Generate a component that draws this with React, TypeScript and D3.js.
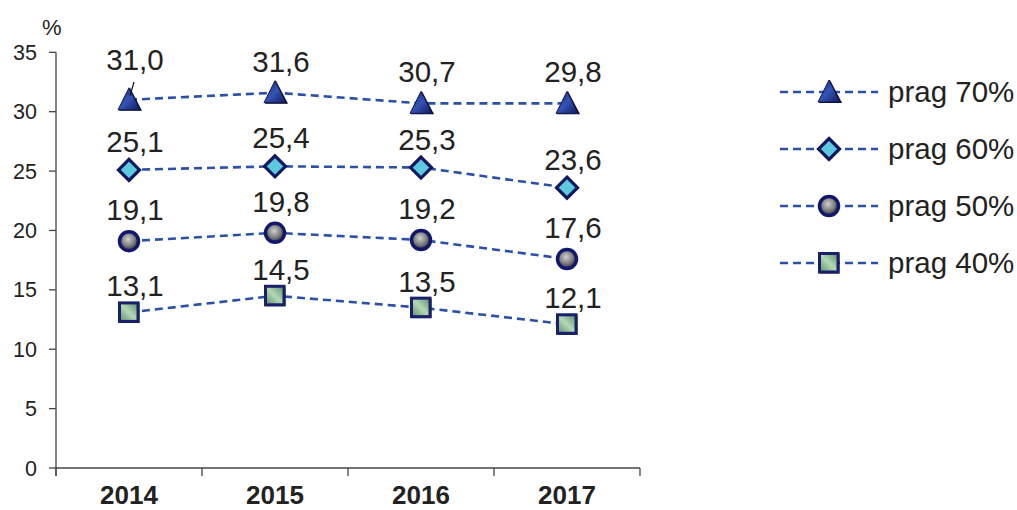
import React from "react";
import * as d3 from "d3";

const years = ["2014", "2015", "2016", "2017"];
const yTicks = [0, 5, 10, 15, 20, 25, 30, 35];
const seriesNames = ["prag 70%", "prag 60%", "prag 50%", "prag 40%"];
const markerKinds = ["triangle", "diamond", "circle", "square"];
// plotted positions (as drawn in the picture)
const prag70 = [31.0, 31.6, 30.7, 30.7];
const prag60 = [25.1, 25.4, 25.3, 23.6];
const prag50 = [19.1, 19.8, 19.2, 17.6];
const prag40 = [13.1, 14.5, 13.5, 12.1];
// printed data labels
const labels70 = ["31,0", "31,6", "30,7", "29,8"];
const labels60 = ["25,1", "25,4", "25,3", "23,6"];
const labels50 = ["19,1", "19,8", "19,2", "17,6"];
const labels40 = ["13,1", "14,5", "13,5", "12,1"];

const allValues = [prag70, prag60, prag50, prag40];
const allLabels = [labels70, labels60, labels50, labels40];

const W = 1017;
const H = 510;
const FONT = "'Liberation Sans', Arial, sans-serif";
const LINE = "#2a50a8";

const x = d3.scaleBand<string>().domain(years).range([56, 640]);
const y = d3.scaleLinear().domain([0, 35]).range([468, 52.3]);
const cx = (yr: string) => (x(yr) as number) + x.bandwidth() / 2;

const labelGap = [21, 18, 21, 16];

function Marker({ kind, px, py }: { kind: string; px: number; py: number }) {
  if (kind === "triangle") {
    const p = (pts: number[][]) => pts.map((q) => q.join(",")).join(" ");
    return (
      <g>
        <polygon points={p([[px + 1, py - 12], [px + 13, py + 11], [px - 10, py + 11]])} fill="#05051a" />
        <polygon points={p([[px, py - 12], [px + 11, py + 10], [px - 11, py + 10]])} fill="url(#gTri)" stroke="#101a5e" strokeWidth={1} />
      </g>
    );
  }
  if (kind === "diamond") {
    const s = 10.5;
    return (
      <polygon
        points={`${px},${py - s} ${px + s},${py} ${px},${py + s} ${px - s},${py}`}
        fill="#5cc9de"
        stroke="#10185e"
        strokeWidth={3.2}
      />
    );
  }
  if (kind === "circle") {
    return <circle cx={px} cy={py} r={9.5} fill="url(#gCirc)" stroke="#10186e" strokeWidth={3.5} />;
  }
  return (
    <g>
      <rect x={px - 9.5} y={py - 9.5} width={20} height={20} fill="#05051a" />
      <rect x={px - 9.5} y={py - 9.5} width={18.5} height={18.5} fill="url(#gSq)" stroke="#18206a" strokeWidth={3} />
    </g>
  );
}

export default function App() {
  const line = d3
    .line<number>()
    .x((_, i) => cx(years[i]))
    .y((v) => y(v));

  const legendY = [92, 149, 206, 263];

  return (
    <svg width={W} height={H} style={{ position: "absolute", left: 0, top: 0, background: "#fff" }} fontFamily={FONT}>
      <defs>
        <linearGradient id="gTri" x1="0" y1="0" x2="1" y2="1">
          <stop offset="0" stopColor="#16226e" />
          <stop offset="0.5" stopColor="#3454b4" />
          <stop offset="1" stopColor="#101a5e" />
        </linearGradient>
        <radialGradient id="gCirc" cx="0.45" cy="0.4" r="0.6">
          <stop offset="0" stopColor="#d0d0d0" />
          <stop offset="0.6" stopColor="#7a7a7a" />
          <stop offset="1" stopColor="#2e2e2e" />
        </radialGradient>
        <linearGradient id="gSq" x1="0" y1="1" x2="1" y2="0">
          <stop offset="0" stopColor="#5f8e6c" />
          <stop offset="0.5" stopColor="#b4d8b4" />
          <stop offset="1" stopColor="#5e8c6c" />
        </linearGradient>
      </defs>

      {/* Y axis */}
      <line x1={56} x2={56} y1={y(35)} y2={476} stroke="#444" strokeWidth={1.3} />
      {yTicks.map((t) => (
        <g key={t}>
          <line x1={49} x2={56} y1={y(t)} y2={y(t)} stroke="#444" strokeWidth={1.3} />
          <text x={37} y={y(t) + 7.5} textAnchor="end" fontSize={21.5} fill="#222">
            {t}
          </text>
        </g>
      ))}
      <text x={42} y={35} fontSize={22} fill="#222">%</text>

      {/* X axis */}
      <line x1={56} x2={640} y1={y(0)} y2={y(0)} stroke="#444" strokeWidth={1.3} />
      {[...years.map((yr) => x(yr) as number), 640].map((tx, i) => (
        <line key={i} x1={tx} x2={tx} y1={y(0)} y2={476} stroke="#444" strokeWidth={1.3} />
      ))}
      {years.map((yr) => (
        <text key={yr} x={cx(yr)} y={504} textAnchor="middle" fontSize={26} fontWeight="bold" fill="#222">
          {yr}
        </text>
      ))}

      {/* Series */}
      {allValues.map((vals, si) => (
        <path key={"l" + si} d={line(vals) as string} fill="none" stroke={LINE} strokeWidth={2.6} strokeDasharray="8,5" />
      ))}
      {allValues.map((vals, si) =>
        vals.map((v, i) => <Marker key={`m${si}-${i}`} kind={markerKinds[si]} px={cx(years[i])} py={y(v)} />)
      )}
      {allValues.map((vals, si) =>
        vals.map((v, i) => {
          const moved = si === 0 && i === 0;
          const ly = moved ? 70 : y(v) - labelGap[si];
          return (
            <text key={`t${si}-${i}`} x={cx(years[i]) + 6} y={ly} textAnchor="middle" fontSize={29.5} fill="#222">
              {allLabels[si][i]}
            </text>
          );
        })
      )}
      {/* leader line for moved label */}
      <line x1={cx(years[0]) + 5} y1={82} x2={cx(years[0]) + 1} y2={y(prag70[0]) - 4} stroke="#111" strokeWidth={1.2} />

      {/* Legend */}
      {seriesNames.map((name, si) => (
        <g key={name}>
          <line x1={780} x2={878} y1={legendY[si]} y2={legendY[si]} stroke={LINE} strokeWidth={2.6} strokeDasharray="8,5" />
          <Marker kind={markerKinds[si]} px={829} py={legendY[si]} />
          <text x={888} y={legendY[si] + 10} fontSize={29.5} fill="#222">
            {name}
          </text>
        </g>
      ))}
    </svg>
  );
}
